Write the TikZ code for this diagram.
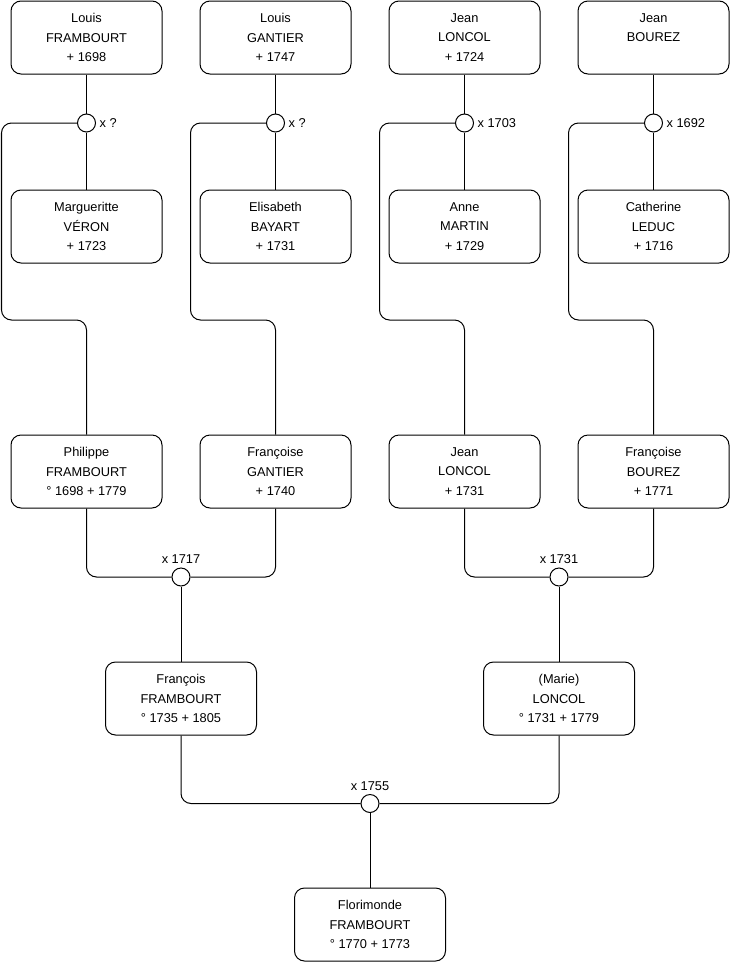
\documentclass[tikz,border=0pt]{standalone}
\usepackage{fontspec}
\setmainfont{Liberation Sans}
\begin{document}
\begin{tikzpicture}[x=0.75pt, y=-0.75pt,
    person/.style={draw, line width=0.75pt, rounded corners=7.5pt, minimum width=113.25pt, minimum height=54.75pt,
      align=center, font=\fontsize{9.6}{14.6}\selectfont, inner sep=0pt},
    wed/.style={draw, fill=white, circle, line width=0.75pt, minimum size=13.5pt, inner sep=0pt},
    wedlabel/.style={font=\fontsize{9.6}{12}\selectfont, inner sep=2.5pt},
    link/.style={line width=0.75pt, rounded corners=7.5pt}]
    \useasboundingbox (0,0) rectangle (740,975);

    % Arrière-grands-parents
    \node[person] (lf) at (86.5, 37.5) {Louis\\FRAMBOURT\\+ 1698};
    \node[person] (lg) at (275.5, 37.5) {Louis\\GANTIER\\+ 1747};
    \node[person] (jl) at (464.5, 37.5) {Jean\\LONCOL\\+ 1724};
    \node[person] (jb) at (653.5, 37.5) {Jean\\BOUREZ\\};

    \node[person] (mv) at (86.5, 226.5) {Margueritte\\VÉRON\\+ 1723};
    \node[person] (eb) at (275.5, 226.5) {Elisabeth\\BAYART\\+ 1731};
    \node[person] (am) at (464.5, 226.5) {Anne\\MARTIN\\+ 1729};
    \node[person] (cl) at (653.5, 226.5) {Catherine\\LEDUC\\+ 1716};

    % Grands-parents
    \node[person] (pf) at (86.5, 471.5) {Philippe\\FRAMBOURT\\° 1698 + 1779};
    \node[person] (fg) at (275.5, 471.5) {Françoise\\GANTIER\\+ 1740};
    \node[person] (jl2) at (464.5, 471.5) {Jean\\LONCOL\\+ 1731};
    \node[person] (fb) at (653.5, 471.5) {Françoise\\BOUREZ\\+ 1771};

    % Parents et enfant
    \node[person] (ff) at (181, 698.5) {François\\FRAMBOURT\\° 1735 + 1805};
    \node[person] (ml) at (559, 698.5) {(Marie)\\LONCOL\\° 1731 + 1779};
    \node[person] (fl) at (370, 924.5) {Florimonde\\FRAMBOURT\\° 1770 + 1773};

    % Mariages
    \node[wed] (x1) at (86.5, 123) {};
    \node[wed] (x2) at (275.5, 123) {};
    \node[wed] (x3) at (464.5, 123) {};
    \node[wed] (x4) at (653.5, 123) {};
    \node[wed] (x5) at (181, 577) {};
    \node[wed] (x6) at (559, 577) {};
    \node[wed] (x7) at (370, 803.5) {};

    \node[wedlabel, right] at (x1.east) {x ?};
    \node[wedlabel, right] at (x2.east) {x ?};
    \node[wedlabel, right] at (x3.east) {x 1703};
    \node[wedlabel, right] at (x4.east) {x 1692};
    \node[wedlabel, above] at (x5.north) {x 1717};
    \node[wedlabel, above] at (x6.north) {x 1731};
    \node[wedlabel, above] at (x7.north) {x 1755};

    % Liens des couples du haut
    \foreach \h/\x/\w/\c in {lf/x1/mv/pf, lg/x2/eb/fg, jl/x3/am/jl2, jb/x4/cl/fb} {
      \draw[link] (\h.south) -- (\x.north);
      \draw[link] (\x.south) -- (\w.north);
      \draw[link] (\x.west) -- ++(-75.5,0) -- ++(0,197) -| (\c.north);
    }

    % Liens vers les enfants
    \draw[link] (pf.south) |- (x5.west);
    \draw[link] (fg.south) |- (x5.east);
    \draw[link] (x5.south) -- (ff.north);
    \draw[link] (jl2.south) |- (x6.west);
    \draw[link] (fb.south) |- (x6.east);
    \draw[link] (x6.south) -- (ml.north);
    \draw[link] (ff.south) |- (x7.west);
    \draw[link] (ml.south) |- (x7.east);
    \draw[link] (x7.south) -- (fl.north);
  \end{tikzpicture}
\end{document}
